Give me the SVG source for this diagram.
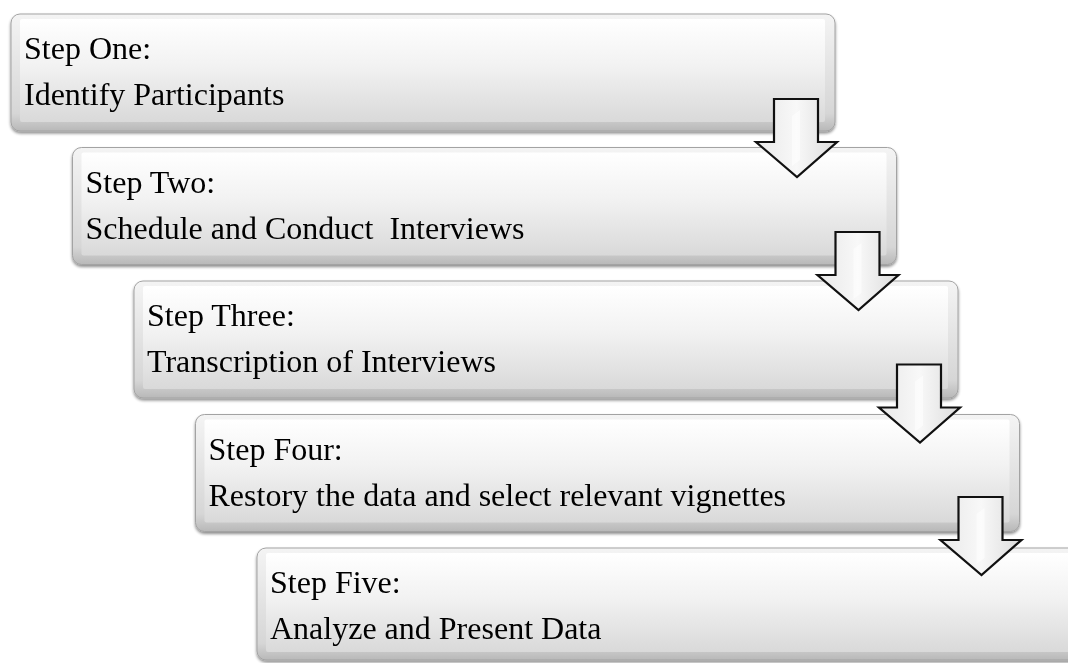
<svg xmlns="http://www.w3.org/2000/svg" width="1068" height="663" viewBox="0 0 1068 663">
<style>
.edge{fill:url(#edgeG);stroke:#a3a3a3;stroke-width:1}
.face{fill:url(#faceG)}
.lbl{font-family:"Liberation Serif","Times New Roman",serif;font-size:32px;fill:#000;white-space:pre}
.arr{fill:url(#arrG);stroke:#111;stroke-width:2.2;stroke-linejoin:miter}
.hl{fill:#ffffff;opacity:0.55}
</style>
<defs>
<linearGradient id="edgeG" x1="0" y1="0" x2="0" y2="1">
<stop offset="0" stop-color="#f4f4f4"/>
<stop offset="0.85" stop-color="#d6d6d6"/>
<stop offset="1" stop-color="#b8b8b8"/>
</linearGradient>
<linearGradient id="faceG" x1="0" y1="0" x2="0" y2="1">
<stop offset="0" stop-color="#ffffff"/>
<stop offset="0.45" stop-color="#f2f2f2"/>
<stop offset="1" stop-color="#d9d9d9"/>
</linearGradient>
<linearGradient id="arrG" x1="0" y1="0" x2="1" y2="0">
<stop offset="0" stop-color="#e8e8e8"/>
<stop offset="0.5" stop-color="#f8f8f8"/>
<stop offset="1" stop-color="#dcdcdc"/>
</linearGradient>
<filter id="sh" x="-5%" y="-10%" width="110%" height="130%">
<feGaussianBlur in="SourceAlpha" stdDeviation="1.5"/>
<feOffset dx="0" dy="2" result="b"/>
<feComponentTransfer><feFuncA type="linear" slope="0.45"/></feComponentTransfer>
<feMerge><feMergeNode/><feMergeNode in="SourceGraphic"/></feMerge>
</filter>
</defs>

<g id="step1" filter="url(#sh)">
<rect class="edge" x="11" y="14" width="824" height="117" rx="9"/>
<rect class="face" x="20" y="19" width="805" height="103" rx="2"/>
<text class="lbl" x="24" y="59">Step One:</text>
<text class="lbl" x="24" y="105">Identify Participants</text>
</g>
<g id="step2" filter="url(#sh)">
<rect class="edge" x="72.5" y="147.5" width="824" height="117" rx="9"/>
<rect class="face" x="81.5" y="152.5" width="805" height="103" rx="2"/>
<text class="lbl" x="85.5" y="192.5">Step Two:</text>
<text class="lbl" x="85.5" y="238.5" xml:space="preserve">Schedule and Conduct  Interviews</text>
</g>
<g id="step3" filter="url(#sh)">
<rect class="edge" x="134" y="281" width="824" height="117" rx="9"/>
<rect class="face" x="143" y="286" width="805" height="103" rx="2"/>
<text class="lbl" x="147" y="326">Step Three:</text>
<text class="lbl" x="147" y="372">Transcription of Interviews</text>
</g>
<g id="step4" filter="url(#sh)">
<rect class="edge" x="195.5" y="414.5" width="824" height="117" rx="9"/>
<rect class="face" x="204.5" y="419.5" width="805" height="103" rx="2"/>
<text class="lbl" x="208.5" y="459.5">Step Four:</text>
<text class="lbl" x="208.5" y="505.5">Restory the data and select relevant vignettes</text>
</g>
<g id="step5" filter="url(#sh)">
<rect class="edge" x="257" y="548" width="824" height="112" rx="9"/>
<rect class="face" x="266" y="553" width="805" height="99" rx="2"/>
<text class="lbl" x="270" y="593">Step Five:</text>
<text class="lbl" x="270" y="639">Analyze and Present Data</text>
</g>

<g id="connectors">
<g transform="translate(0,0)">
<polygon class="arr" points="774,99 818,99 818,142 837,142 797,177 756,142 774,142"/>
<polygon class="hl" points="792,116 800,110 800,160 792,166"/>
</g>
<g transform="translate(61.5,133)">
<polygon class="arr" points="774,99 818,99 818,142 837,142 797,177 756,142 774,142"/>
<polygon class="hl" points="792,116 800,110 800,160 792,166"/>
</g>
<g transform="translate(123,265.5)">
<polygon class="arr" points="774,99 818,99 818,142 837,142 797,177 756,142 774,142"/>
<polygon class="hl" points="792,116 800,110 800,160 792,166"/>
</g>
<g transform="translate(184.5,398)">
<polygon class="arr" points="774,99 818,99 818,142 837,142 797,177 756,142 774,142"/>
<polygon class="hl" points="792,116 800,110 800,160 792,166"/>
</g>
</g>
</svg>
